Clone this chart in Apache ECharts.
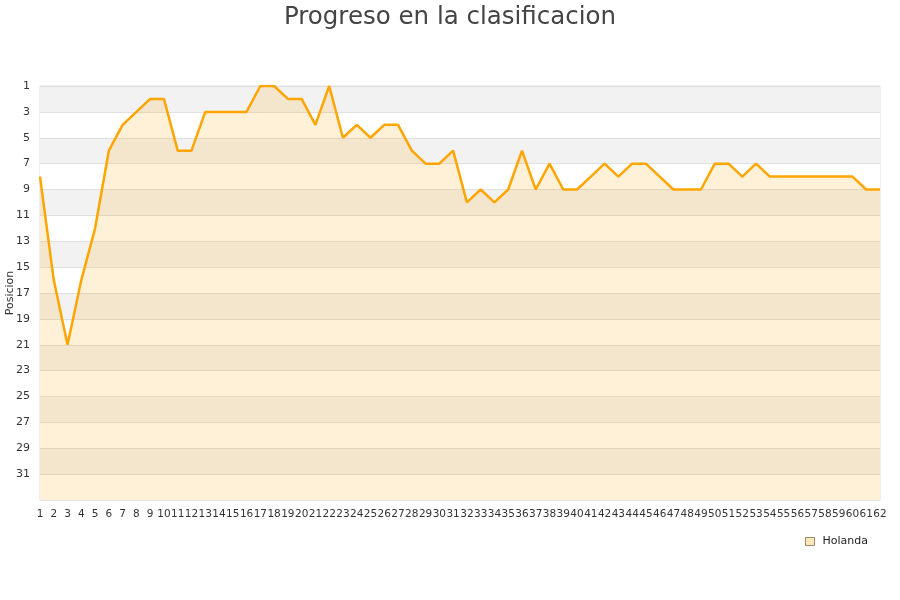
<!DOCTYPE html>
<html><head><meta charset="utf-8">
<script src="https://cdn.jsdelivr.net/npm/echarts@6/dist/echarts.min.js"></script>
<style>html,body{margin:0;padding:0;background:#fff}#c{width:900px;height:600px}</style>
</head><body><div id="c"></div>
<script>
const categories = Array.from({length: 62}, (_, i) => String(i + 1));
const seriesName = 'Holanda';
const positions = [8,16,21,16,12,6,4,3,2,2,6,6,3,3,3,3,1,1,2,2,4,1,5,4,5,4,4,6,7,7,6,10,9,10,9,6,9,7,9,9,8,7,8,7,7,8,9,9,9,7,7,8,7,8,8,8,8,8,8,8,9,9];
const yMin = 1, yMax = 33, yStep = 2;

const chart = echarts.init(document.getElementById('c'));
chart.setOption({
  animation: false,
  title: {text: 'Progreso en la clasificacion', left: 'center', top: 0,
    textStyle: {fontSize: 24.5, fontWeight: 'normal', color: '#444', fontFamily: 'DejaVu Sans'}},
  legend: {data: [{name: seriesName, itemStyle: {color: '#ffe6b8', borderColor: '#9a8a70', borderWidth: 1}}],
    left: 800, top: 531, icon: 'rect', itemWidth: 9, itemHeight: 8, itemGap: 6,
    textStyle: {fontSize: 11, color: '#222', fontFamily: 'DejaVu Sans', padding: [0, 0, 0, 3]}},
  grid: {left: 40, right: 20, top: 86, bottom: 100, show: true, borderColor: '#ddd', borderWidth: 1,
    containLabel: false, outerBoundsMode: 'none'},
  xAxis: {type: 'category', data: categories, boundaryGap: false,
    axisLine: {show: false}, axisTick: {show: false},
    axisLabel: {interval: 0, fontSize: 10.5, color: '#333', margin: 9, fontFamily: 'DejaVu Sans'}},
  yAxis: {type: 'value', inverse: true, min: yMin, max: yMax, interval: yStep,
    name: 'Posicion', nameLocation: 'middle', nameGap: 24, nameRotate: 90, nameMoveOverlap: false,
    nameTextStyle: {fontSize: 11, color: '#333', fontFamily: 'DejaVu Sans'},
    axisLine: {show: false}, axisTick: {show: false},
    axisLabel: {fontSize: 11, color: '#333', margin: 10, fontFamily: 'DejaVu Sans',
      formatter: v => v === yMax ? '' : String(v)},
    splitLine: {lineStyle: {color: '#e0e0e0'}},
    splitArea: {show: true, areaStyle: {color: ['#f2f2f2', '#ffffff']}}},
  series: [{name: seriesName, type: 'line', data: positions, showSymbol: false,
    itemStyle: {color: '#ffa500'},
    lineStyle: {color: '#ffa500', width: 2.5},
    areaStyle: {color: 'rgba(255,165,0,0.22)', origin: 'end'}}]
});
</script></body></html>
